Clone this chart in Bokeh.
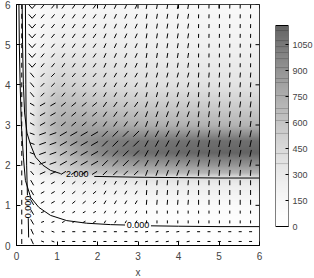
import numpy as np
from bokeh.plotting import figure
from bokeh.layouts import row
from bokeh.models import FixedTicker, Label, LinearColorMapper
from bokeh.embed import file_html
from bokeh.resources import INLINE
from bokeh.core.properties import value

FONT = "Liberation Sans"

X_TICKS = [0, 1, 2, 3, 4, 5, 6]
Y_TICKS = [0, 1, 2, 3, 4, 5, 6]
CBAR_TICKS = [0, 150, 300, 450, 600, 750, 900, 1050]
CBAR_MAX = 1160
CBAR_LEVELS = [1131, 1073, 1038, 1004, 969, 917, 854, 831, 756, 681, 652, 612, 537, 421, 363]

FIELD_X = [0, 0.3, 0.6, 1.0, 1.5, 2.0, 2.5, 3.0, 4.0, 5.0, 6.0]
FIELD_Y = [0, 0.5, 1.0, 1.5, 1.7, 1.8, 2.0, 2.3, 2.6, 3.0, 3.5, 4.0, 5.0, 6.0]
FIELD_V = [
    [0, 0, 0, 0, 0, 0, 0, 0, 0, 0, 0],
    [10, 20, 30, 30, 30, 30, 30, 30, 30, 30, 30],
    [20, 40, 60, 80, 100, 110, 110, 110, 110, 110, 110],
    [40, 80, 130, 170, 220, 250, 260, 270, 280, 280, 280],
    [60, 120, 200, 260, 320, 360, 380, 400, 410, 420, 420],
    [70, 150, 280, 400, 540, 620, 660, 680, 690, 700, 700],
    [80, 180, 340, 480, 640, 760, 820, 860, 880, 900, 900],
    [90, 220, 420, 600, 800, 950, 1050, 1100, 1130, 1150, 1160],
    [100, 250, 480, 700, 880, 980, 1030, 1060, 1080, 1100, 1100],
    [100, 260, 540, 740, 800, 790, 770, 750, 730, 720, 710],
    [90, 230, 480, 660, 660, 620, 590, 570, 550, 540, 530],
    [80, 190, 380, 520, 500, 450, 420, 400, 380, 370, 360],
    [60, 120, 200, 270, 280, 280, 270, 260, 240, 230, 220],
    [50, 80, 120, 150, 160, 170, 170, 170, 150, 130, 120],
]

# contour lines
CA1_X = [0.14, 0.15, 0.17, 0.20, 0.26, 0.35, 0.47, 0.65, 0.84, 1.09]
CA1_Y = [6.0, 5.0, 4.0, 3.3, 2.8, 2.5, 2.2, 2.0, 1.87, 1.79]
CA2_X = [1.92, 3.0, 4.0, 5.0, 6.0]
CA2_Y = [1.72, 1.70, 1.69, 1.68, 1.68]
CB1_X = [0.06, 0.07, 0.09, 0.12, 0.17, 0.22, 0.35, 0.55, 0.84, 1.24, 1.73, 2.32, 2.68]
CB1_Y = [6.0, 5.0, 4.0, 3.0, 2.2, 1.62, 1.2, 0.95, 0.75, 0.62, 0.555, 0.52, 0.51]
CB2_X = [3.32, 4.0, 5.0, 6.0]
CB2_Y = [0.49, 0.48, 0.47, 0.47]
CC1_X = [0.22, 0.23, 0.25, 0.27]
CC1_Y = [6.0, 4.0, 2.0, 1.25]
CC2_X = [0.29, 0.3]
CC2_Y = [0.68, 0.2]
CLABELS = ["2.000", "0.000", "0.000"]
CLABEL_X = [1.5, 3.0, 0.29]
CLABEL_Y = [1.77, 0.50, 0.96]
CLABEL_ANGLE = [0.0, 0.0, np.pi / 2]

# direction field: grid and banded orientation / length tables
ARROW_X = np.linspace(0.13, 5.78, 23)
ARROW_Y = np.linspace(0.1, 5.95, 25)
ARROW_X_EDGES = [0, 0.3, 0.55, 1.1, 2.1, 3.2, 4.3, 6.1]
ARROW_Y_EDGES = [0, 0.45, 0.95, 1.7, 2.05, 2.85, 3.6, 4.4, 6.1]
# orientation in degrees, -1 = chevron
ARROW_ANGLE = [
    [90, 115, 160, 0, 0, 10, 0],
    [90, 120, 20, 30, 60, 90, 90],
    [90, 120, 30, 40, 60, 85, 90],
    [90, 130, 25, 32, 45, 70, 85],
    [90, 160, 20, 30, 45, 62, 78],
    [90, 150, 30, 40, 55, 70, 82],
    [90, 130, 45, 50, 60, 75, 85],
    [90, -1, 50, 55, 65, 80, 88],
]
ARROW_LEN = [
    [5, 6, 3, 3, 3, 3, 3],
    [5, 6, 3, 3, 3, 3, 3],
    [5, 6, 4, 4, 4, 5, 5],
    [5, 5, 6, 6, 6, 6, 6],
    [5, 5, 7, 8, 8, 7, 7],
    [5, 5, 6, 6, 6, 6, 6],
    [5, 6, 5, 5, 5, 5, 5],
    [5, 6, 5, 5, 5, 5, 4],
]

FW, FH = 243, 241
TOP, BOT = 4, 33
PX_X = 6.0 / FW
PX_Y = 6.0 / FH

# palette: white to dark grey
tt = np.linspace(0, 1, 256)
gg = (255 - 155 * tt ** 1.5).astype(int)
PALETTE = ["#%02x%02x%02x" % (g, g, g) for g in gg]
mapper = LinearColorMapper(palette=PALETTE, low=0, high=CBAR_MAX)

p = figure(frame_width=FW, frame_height=FH, x_range=(0, 6), y_range=(0, 6),
           output_backend="svg", toolbar_location=None,
           min_border_left=16, min_border_right=7, min_border_top=TOP, min_border_bottom=BOT)
p.title.visible = False
p.background_fill_color = "white"
p.grid.visible = False
p.outline_line_color = "black"

# shaded field rendered with bilinear shading over the coarse grid
fv = np.array(FIELD_V, dtype=float)
xf = np.linspace(0, 6, 243)
yf = np.linspace(0, 6, 241)
tmp = np.array([np.interp(xf, FIELD_X, r) for r in fv])
img = np.array([np.interp(yf, FIELD_Y, tmp[:, j]) for j in range(len(xf))]).T
p.image(image=[img], x=0, y=0, dw=6, dh=6, color_mapper=mapper)

# arrows
sx0, sy0, sx1, sy1 = [], [], [], []
chev_x, chev_y = [], []
for yv in ARROW_Y:
    bi = int(np.searchsorted(ARROW_Y_EDGES, yv, side="right") - 1)
    for xv in ARROW_X:
        ci = int(np.searchsorted(ARROW_X_EDGES, xv, side="right") - 1)
        a = ARROW_ANGLE[bi][ci]
        ln = ARROW_LEN[bi][ci]
        if a < 0:
            hw, hh = ln / 2.0 + 0.5, 2.0
            chev_x.append([xv - hw * PX_X, xv, xv + hw * PX_X])
            chev_y.append([yv + hh * PX_Y, yv - hh * PX_Y, yv + hh * PX_Y])
            continue
        th = np.deg2rad(a)
        dx = 0.5 * ln * np.cos(th) * PX_X
        dy = 0.5 * ln * np.sin(th) * PX_Y
        sx0.append(xv - dx); sy0.append(yv - dy)
        sx1.append(xv + dx); sy1.append(yv + dy)
p.segment(sx0, sy0, sx1, sy1, line_color="black", line_width=1)
p.multi_line(chev_x, chev_y, line_color="black", line_width=1)

# contours
for cx, cy in [(CA1_X, CA1_Y), (CA2_X, CA2_Y), (CB1_X, CB1_Y), (CB2_X, CB2_Y),
               (CC1_X, CC1_Y), (CC2_X, CC2_Y)]:
    p.line(cx, cy, line_color="black", line_width=1)
p.text(x=CLABEL_X, y=CLABEL_Y, text=CLABELS, angle=CLABEL_ANGLE,
       text_font=value(FONT), text_font_size="9px", text_align="center",
       text_baseline="middle", text_color="black")

# inward ticks on the right and top edges
tk = 4
p.segment(x0=[6 - tk * PX_X] * len(Y_TICKS), y0=Y_TICKS, x1=[6] * len(Y_TICKS), y1=Y_TICKS,
          line_color="black", line_width=1)
p.segment(x0=X_TICKS, y0=[6 - tk * PX_Y] * len(X_TICKS), x1=X_TICKS, y1=[6] * len(X_TICKS),
          line_color="black", line_width=1)

# axes
for ax, tks in ((p.xaxis[0], X_TICKS), (p.yaxis[0], Y_TICKS)):
    ax.ticker = FixedTicker(ticks=tks)
    ax.major_tick_in = tk
    ax.major_tick_out = 0
    ax.minor_tick_line_color = None
    ax.major_label_text_font = FONT
    ax.major_label_text_font_size = "10px"
    ax.axis_line_color = "black"
    ax.major_tick_line_color = "black"
    ax.major_label_standoff = 6
p.xaxis.axis_label = "x"
p.xaxis.axis_label_text_font = FONT
p.xaxis.axis_label_text_font_style = "normal"
p.xaxis.axis_label_text_font_size = "10px"
p.xaxis.axis_label_standoff = 4
p.add_layout(Label(x=-0.33, y=2.9, text="y", text_font=FONT, text_font_size="10px",
                   text_align="center", text_baseline="middle"))

# colorbar: same vertical frame as the main plot, bar spans pixels 25..226
BAR_TOP_PX, BAR_BOT_PX = 25, 226
vpp = CBAR_MAX / (BAR_BOT_PX - BAR_TOP_PX)
y_lo = -(TOP + FH - BAR_BOT_PX) * vpp
y_hi = CBAR_MAX + (BAR_TOP_PX - TOP) * vpp
c = figure(frame_width=13, frame_height=FH, x_range=(0, 1), y_range=(y_lo, y_hi),
           output_backend="svg", toolbar_location=None, y_axis_location="right",
           min_border_left=9, min_border_right=26, min_border_top=TOP, min_border_bottom=BOT)
c.title.visible = False
c.grid.visible = False
c.xaxis.visible = False
c.outline_line_color = None
cb = np.linspace(0, CBAR_MAX, 300).reshape(300, 1)
c.image(image=[cb], x=0, y=0, dw=1, dh=CBAR_MAX, color_mapper=mapper)
c.segment(x0=[0] * len(CBAR_LEVELS), y0=CBAR_LEVELS, x1=[1] * len(CBAR_LEVELS),
          y1=CBAR_LEVELS, line_color="black", line_alpha=0.18, line_width=1)
c.quad(left=[0], right=[1], bottom=[0], top=[CBAR_MAX], fill_color=None,
       line_color="black", line_width=1)
ya = c.yaxis[0]
ya.ticker = FixedTicker(ticks=CBAR_TICKS)
ya.major_tick_in = 3
ya.major_tick_out = 0
ya.minor_tick_line_color = None
ya.major_label_text_font = FONT
ya.major_label_text_font_size = "9px"
ya.major_label_standoff = 4
ya.axis_line_color = None
ya.major_tick_line_color = "black"

layout = row(p, c)
open("out.html", "w").write(file_html(layout, INLINE))
